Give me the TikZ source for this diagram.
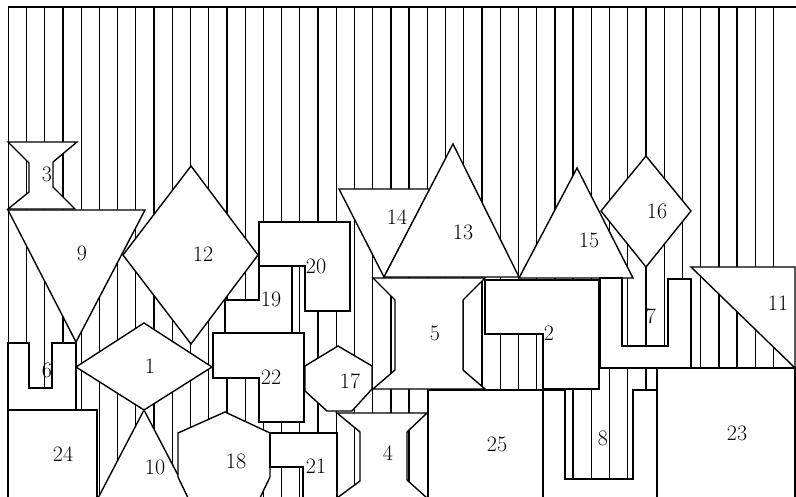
\documentclass[tikz,border=0pt]{standalone}
\tikzset{
  piece/.style={draw=black, fill=white, line width=1.4pt, line join=miter},
  hatch/.style={draw=black, line width=1.3pt},
  lab/.style={font=\fontsize{22}{26}\selectfont, inner sep=0pt}
}
\begin{document}
\begin{tikzpicture}[x=1pt,y=-1pt]
\useasboundingbox (0,0) rectangle (796,497);
\clip (0,0) rectangle (796,497);
% background hatching
\foreach \i in {0,...,42} \draw[hatch] ({8.3+18.22*\i},7) -- ({8.3+18.22*\i},500);
\draw[hatch] (7.5,7) -- (796,7);
% pieces
\draw[piece] (8,142)--(77,142)--(53,162)--(53,187)--(75,209)--(8,209)--(29,192)--(29,163)--cycle;
\draw[piece] (8,210)--(145,210)--(76,342)--cycle;
\draw[piece] (191,166)--(258,255)--(191,344)--(123,255)--cycle;
\draw[piece] (144,323)--(212,367)--(144,410)--(76,367)--cycle;
\draw[piece] (8,343)--(29,343)--(29,388)--(52,388)--(52,343)--(76,343)--(76,410)--(8,410)--cycle;
\draw[piece] (8,410) rectangle (97,505);
\draw[piece] (144,410)--(191,500)--(97,500)--cycle;
\draw[piece] (225,412)--(270,433)--(270,477)--(259,500)--(189,500)--(178,477)--(178,433)--cycle;
\draw[piece] (213,333)--(304,333)--(304,422)--(259,422)--(259,378)--(213,378)--cycle;
\draw[piece] (259,222)--(350,222)--(350,311)--(305,311)--(305,266)--(259,266)--cycle;
\draw[piece] (259,266)--(292,266)--(292,333)--(225,333)--(225,300)--(259,300)--cycle;
\draw[piece] (270,433)--(337,433)--(337,505)--(303,505)--(303,467)--(270,467)--cycle;
\draw[piece] (338,346)--(372,366)--(372,389)--(352,411)--(327,411)--(305,391)--(305,366)--cycle;
\draw[piece] (337,413)--(427,413)--(407,432)--(407,480)--(427,498)--(427,505)--(337,505)--(337,498)--(360,481)--(360,432)--cycle;
\draw[piece] (373,278)--(485,278)--(463,300)--(463,370)--(485,389)--(373,389)--(395,370)--(395,300)--cycle;
\draw[piece] (339,189)--(430,189)--(384,277)--cycle;
\draw[piece] (453,144)--(519,277)--(384,277)--cycle;
\draw[piece] (577,168)--(633,278)--(519,278)--cycle;
\draw[piece] (646,156)--(691,211)--(646,267)--(601,211)--cycle;
\draw[piece] (485,280)--(599,280)--(599,389)--(543,389)--(543,334)--(485,334)--cycle;
\draw[piece] (428,390) rectangle (543,505);
\draw[piece] (543,390)--(565,390)--(565,479)--(633,479)--(633,390)--(657,390)--(657,505)--(543,505)--cycle;
\draw[piece] (600,278)--(622,278)--(622,346)--(668,346)--(668,279)--(691,279)--(691,368)--(600,368)--cycle;
\draw[piece] (657,368) rectangle (795,505);
\draw[piece] (691,267)--(795,267)--(795,368)--cycle;
% labels
\node[lab] (l3) at (47,174) {3};
\node[lab] (l9) at (82,253) {9};
\node[lab] (l12) at (203,254) {12};
\node[lab] (l1) at (150,366) {1};
\node[lab] (l6) at (47,370) {6};
\node[lab] (l24) at (63,454) {24};
\node[lab] (l10) at (155,467) {10};
\node[lab] (l18) at (236,461) {18};
\node[lab] (l19) at (271,299) {19};
\node[lab] (l20) at (316,266) {20};
\node[lab] (l22) at (271,377) {22};
\node[lab] (l21) at (316,466) {21};
\node[lab] (l17) at (350,381) {17};
\node[lab] (l4) at (388,453) {4};
\node[lab] (l14) at (397,217) {14};
\node[lab] (l13) at (463,232) {13};
\node[lab] (l5) at (435,333) {5};
\node[lab] (l25) at (497,444) {25};
\node[lab] (l2) at (549,333) {2};
\node[lab] (l15) at (589,240) {15};
\node[lab] (l16) at (657,211) {16};
\node[lab] (l7) at (651,316) {7};
\node[lab] (l8) at (603,438) {8};
\node[lab] (l11) at (778,303) {11};
\node[lab] (l23) at (737,433) {23};
\end{tikzpicture}
\end{document}
